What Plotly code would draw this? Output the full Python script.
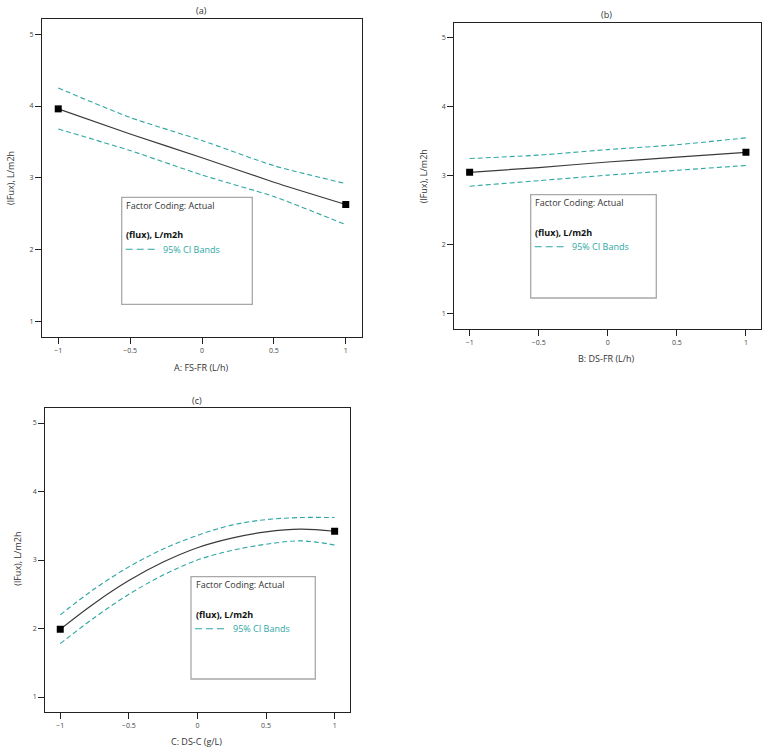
import plotly.graph_objects as go

W, H = 768, 753

# ---------------- data ----------------
a_x = [-1, -0.5, 0, 0.5, 1]
a_mean = [3.96, 3.61, 3.28, 2.94, 2.63]
a_upper = [4.25, 3.84, 3.52, 3.17, 2.92]
a_lower = [3.68, 3.38, 3.04, 2.74, 2.35]

b_x = [-1, -0.5, 0, 0.5, 1]
b_mean = [3.05, 3.12, 3.20, 3.27, 3.34]
b_upper = [3.25, 3.30, 3.38, 3.45, 3.55]
b_lower = [2.85, 2.93, 3.01, 3.08, 3.15]

c_x = [-1, -0.75, -0.5, -0.25, 0, 0.25, 0.5, 0.75, 1]
c_mean = [1.99, 2.37, 2.70, 2.97, 3.18, 3.32, 3.41, 3.45, 3.42]
c_upper = [2.20, 2.58, 2.90, 3.16, 3.36, 3.51, 3.59, 3.62, 3.62]
c_lower = [1.78, 2.16, 2.50, 2.78, 3.00, 3.14, 3.23, 3.28, 3.22]

panel_titles = ["(a)", "(b)", "(c)"]
x_titles = ["A: FS-FR (L/h)", "B: DS-FR (L/h)", "C: DS-C (g/L)"]
y_title = "(lFux), L/m2h"
x_tickvals = [-1, -0.5, 0, 0.5, 1]
x_ticktext = ["\u22121", "\u22120.5", "0", "0.5", "1"]
y_tickvals = [1, 2, 3, 4, 5]

# ---------------- layout geometry (pixels) ----------------
boxes = [(42, 362, 19, 337), (454.3, 761, 22.7, 329.3), (45.3, 350, 408.3, 712.3)]
xranges = [[-1.113, 1.113], [-1.111, 1.109], [-1.109, 1.112]]
yranges = [[0.787, 5.21], [0.778, 5.217], [0.777, 5.215]]
title_pos = [(201, 10.7), (606.7, 15), (196.7, 400.7)]
xtitle_pos = [(201.7, 367), (606.7, 358.3), (196.7, 741.7)]
ytitle_pos = [(10, 178), (423.3, 176), (16.7, 559)]
legend_boxes = [(121.7, 252.3, 197.3, 304.3), (530.7, 656.3, 194.7, 298), (191, 315.3, 576.7, 679)]
smooth = [0.6, 0.6, 1.0]

FONT = "Open Sans"
TEAL = "#2ea7a3"
LINEC = "#3a3a3a"

def px(x):
    return x / W

def py(y):
    return 1 - y / H

fig = go.Figure()
series = [(a_x, a_mean, a_upper, a_lower), (b_x, b_mean, b_upper, b_lower), (c_x, c_mean, c_upper, c_lower)]

annotations = []
shapes = []
for i, (xs, m, u, l) in enumerate(series):
    sfx = "" if i == 0 else str(i + 1)
    xa, ya = "x" + sfx, "y" + sfx
    for band in (u, l):
        fig.add_trace(go.Scatter(x=xs, y=band, mode="lines",
                                 line=dict(color=TEAL, width=1.1, dash="5px,3px", shape="spline", smoothing=smooth[i]),
                                 xaxis=xa, yaxis=ya, showlegend=False, hoverinfo="skip"))
    fig.add_trace(go.Scatter(x=xs, y=m, mode="lines",
                             line=dict(color=LINEC, width=1.2, shape="spline", smoothing=smooth[i]),
                             xaxis=xa, yaxis=ya, showlegend=False))
    fig.add_trace(go.Scatter(x=[xs[0], xs[-1]], y=[m[0], m[-1]], mode="markers",
                             marker=dict(symbol="square", size=7, color="black"),
                             xaxis=xa, yaxis=ya, showlegend=False))
    L, R, T, B = boxes[i]
    axcommon = dict(showgrid=False, zeroline=False, showline=True, linecolor="#222", linewidth=1.3, mirror=True,
                    ticks="outside", ticklen=6, tickwidth=1, tickcolor="#222",
                    tickfont=dict(family=FONT, size=7, color="#444"))
    fig.layout["xaxis" + sfx] = dict(domain=[px(L), px(R)], range=xranges[i], anchor=ya,
                                     tickvals=x_tickvals, ticktext=x_ticktext, **axcommon)
    fig.layout["yaxis" + sfx] = dict(domain=[py(B), py(T)], range=yranges[i], anchor=xa,
                                     tickvals=y_tickvals, **axcommon)
    tx, ty = title_pos[i]
    annotations.append(dict(text=panel_titles[i], x=px(tx), y=py(ty), xref="paper", yref="paper", showarrow=False,
                            xanchor="center", yanchor="middle", font=dict(family=FONT, size=9, color="#333")))
    tx, ty = xtitle_pos[i]
    annotations.append(dict(text=x_titles[i], x=px(tx), y=py(ty), xref="paper", yref="paper", showarrow=False,
                            xanchor="center", yanchor="middle", font=dict(family=FONT, size=9, color="#333")))
    tx, ty = ytitle_pos[i]
    annotations.append(dict(text=y_title, x=px(tx), y=py(ty), xref="paper", yref="paper", showarrow=False, textangle=-90,
                            xanchor="center", yanchor="middle", font=dict(family=FONT, size=9, color="#333")))
    l0, r0, t0, b0 = legend_boxes[i]
    shapes.append(dict(type="rect", xref="paper", yref="paper", x0=px(l0), x1=px(r0), y0=py(b0), y1=py(t0),
                       line=dict(color="#a8a8a8", width=1.3), fillcolor="white", layer="above"))
    annotations.append(dict(text="Factor Coding: Actual", x=px(l0 + 2.5), y=py(t0 + 8), xref="paper", yref="paper",
                            showarrow=False, xanchor="left", yanchor="middle", font=dict(family=FONT, size=9, color="#333")))
    annotations.append(dict(text="<b>(flux), L/m2h</b>", x=px(l0 + 2.5), y=py(t0 + 37.5), xref="paper", yref="paper",
                            showarrow=False, xanchor="left", yanchor="middle", font=dict(family=FONT, size=9, color="#111")))
    shapes.append(dict(type="line", xref="paper", yref="paper", x0=px(l0 + 4), x1=px(l0 + 34), y0=py(t0 + 52), y1=py(t0 + 52),
                       line=dict(color=TEAL, width=1.1, dash="7px,4px"), layer="above"))
    annotations.append(dict(text="95% CI Bands", x=px(l0 + 39.5), y=py(t0 + 52), xref="paper", yref="paper",
                            showarrow=False, xanchor="left", yanchor="middle", font=dict(family=FONT, size=9, color=TEAL)))

fig.update_layout(width=W, height=H, margin=dict(l=0, r=0, t=0, b=0), paper_bgcolor="white", plot_bgcolor="white",
                  annotations=annotations, shapes=shapes, showlegend=False, font=dict(family=FONT))
fig.write_html("out.html")
